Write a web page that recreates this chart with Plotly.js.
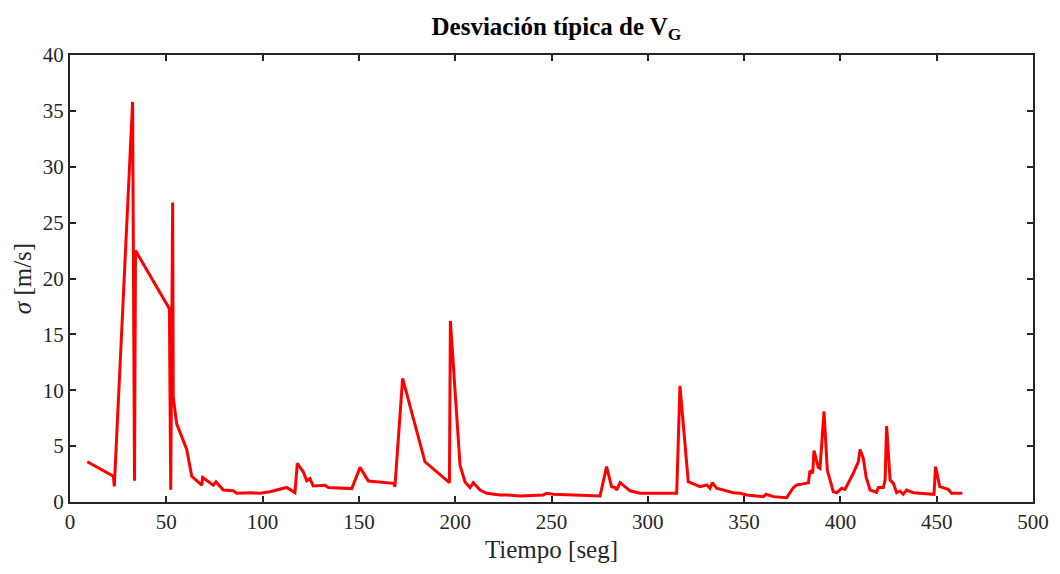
<!DOCTYPE html>
<html>
<head>
<meta charset="utf-8">
<script src="https://cdn.plot.ly/plotly-3.0.1.min.js"></script>
<style>html,body{margin:0;padding:0;background:#fff;}#chart{width:1060px;height:574px;}</style>
</head>
<body>
<div id="chart"></div>
<script>
const tiempo = [9.0, 22.5, 23.0, 32.5, 33.5, 34.0, 51.6, 52.3, 53.3, 53.6, 55.4, 60.6, 63.2, 68.4, 68.9, 74.4, 75.8, 79.6, 84.8, 86.5, 93.5, 98.7,
  103.8, 112.5, 116.8, 118.0, 121.1, 122.9, 124.6, 126.3, 132.4, 134.1, 146.3, 150.6, 154.9, 167.9, 168.7, 172.7, 184.3, 197.0, 197.5, 202.5, 205.1, 207.7, 209.4, 212.9, 216.4, 223.3,
  226.7, 233.6, 245.8, 247.5, 250.9, 275.2, 278.6, 281.2, 283.0, 283.8, 285.6, 287.3, 290.8, 296.0, 315.0, 316.7, 321.0, 327.1, 330.6, 332.3, 333.5, 335.7, 340.9, 344.4, 347.9,
  351.3, 360.0, 361.4, 365.2, 372.1, 375.6, 377.3, 379.9, 383.4, 384.2, 385.6, 386.3, 388.5, 389.4, 391.5, 393.2, 396.3, 398.1, 400.7, 402.4, 405.0, 406.7, 409.3, 410.2, 411.9, 413.3, 415.4, 418.8, 419.7, 422.3, 423.2, 424.0, 425.8, 427.5, 429.2, 430.9, 432.6, 434.4, 437.8, 448.6, 449.4, 451.6, 456.0, 457.7, 463.3];
const sigma = [3.6, 2.3, 1.4, 35.8, 1.9, 22.5, 17.3, 1.1, 26.8, 9.4, 7.0, 4.7, 2.3, 1.5, 2.2, 1.5, 1.8, 1.07, 1.0, 0.78, 0.83, 0.78,
  0.92, 1.3, 0.83, 3.46, 2.7, 1.9, 2.1, 1.43, 1.5, 1.3, 1.2, 3.1, 1.88, 1.67, 1.37, 11.07, 3.6, 1.73, 16.2, 3.3, 1.8, 1.3, 1.73, 1.07, 0.78, 0.63,
  0.63, 0.54, 0.63, 0.78, 0.69, 0.54, 3.16, 1.37, 1.3, 1.07, 1.73, 1.5, 1.0, 0.78, 0.78, 10.4, 1.82, 1.37, 1.52, 1.23, 1.73, 1.23, 1.0, 0.83, 0.78,
  0.63, 0.48, 0.69, 0.48, 0.39, 1.3, 1.52, 1.6, 1.73, 2.8, 2.57, 4.6, 3.1, 3.0, 8.1, 2.86, 0.92, 0.83, 1.23, 1.13, 1.97, 2.57, 3.6, 4.7, 3.9, 2.27, 1.07, 0.87, 1.3, 1.3, 1.97, 6.8, 1.97, 1.67, 0.83, 0.98, 0.69, 1.07, 0.83, 0.69, 3.16, 1.37, 1.13, 0.78, 0.78];

const titleText = 'Desviación típica de V<sub>G</sub>';
const xTitle = 'Tiempo [seg]';
const yTitle = '<i>σ</i> [m/s]';

const axisColor = '#262626';
const font = 'Liberation Serif, Times New Roman, serif';

const trace = {
  x: tiempo, y: sigma, type: 'scatter', mode: 'lines',
  line: {color: '#ff0000', width: 3}, hoverinfo: 'skip'
};

const layout = {
  width: 1060, height: 574,
  margin: {l: 70, r: 27, t: 55, b: 72},
  paper_bgcolor: '#ffffff', plot_bgcolor: '#ffffff',
  showlegend: false,
  font: {family: font, color: axisColor, size: 21},
  title: {text: titleText, x: 0.525, xanchor: 'center', y: 0.955, yanchor: 'middle',
    font: {family: font, size: 25, color: '#000', weight: 'bold'}},
  xaxis: {
    range: [0, 500], tickmode: 'linear', tick0: 0, dtick: 50,
    ticks: 'inside', ticklen: 6, tickwidth: 2, tickcolor: axisColor,
    showline: true, linecolor: axisColor, linewidth: 2, mirror: 'ticks',
    showgrid: false, zeroline: false,
    tickfont: {family: font, size: 21, color: axisColor},
    title: {text: xTitle, font: {family: font, size: 25, color: axisColor}, standoff: 7}
  },
  yaxis: {
    range: [0, 40], tickmode: 'linear', tick0: 0, dtick: 5,
    ticks: 'inside', ticklen: 6, tickwidth: 2, tickcolor: axisColor,
    showline: true, linecolor: axisColor, linewidth: 2, mirror: 'ticks',
    showgrid: false, zeroline: false,
    tickfont: {family: font, size: 21, color: axisColor},
    title: {text: yTitle, font: {family: font, size: 25, color: axisColor}, standoff: 4}
  }
};

Plotly.newPlot('chart', [trace], layout, {displayModeBar: false, staticPlot: true});
</script>
</body>
</html>
